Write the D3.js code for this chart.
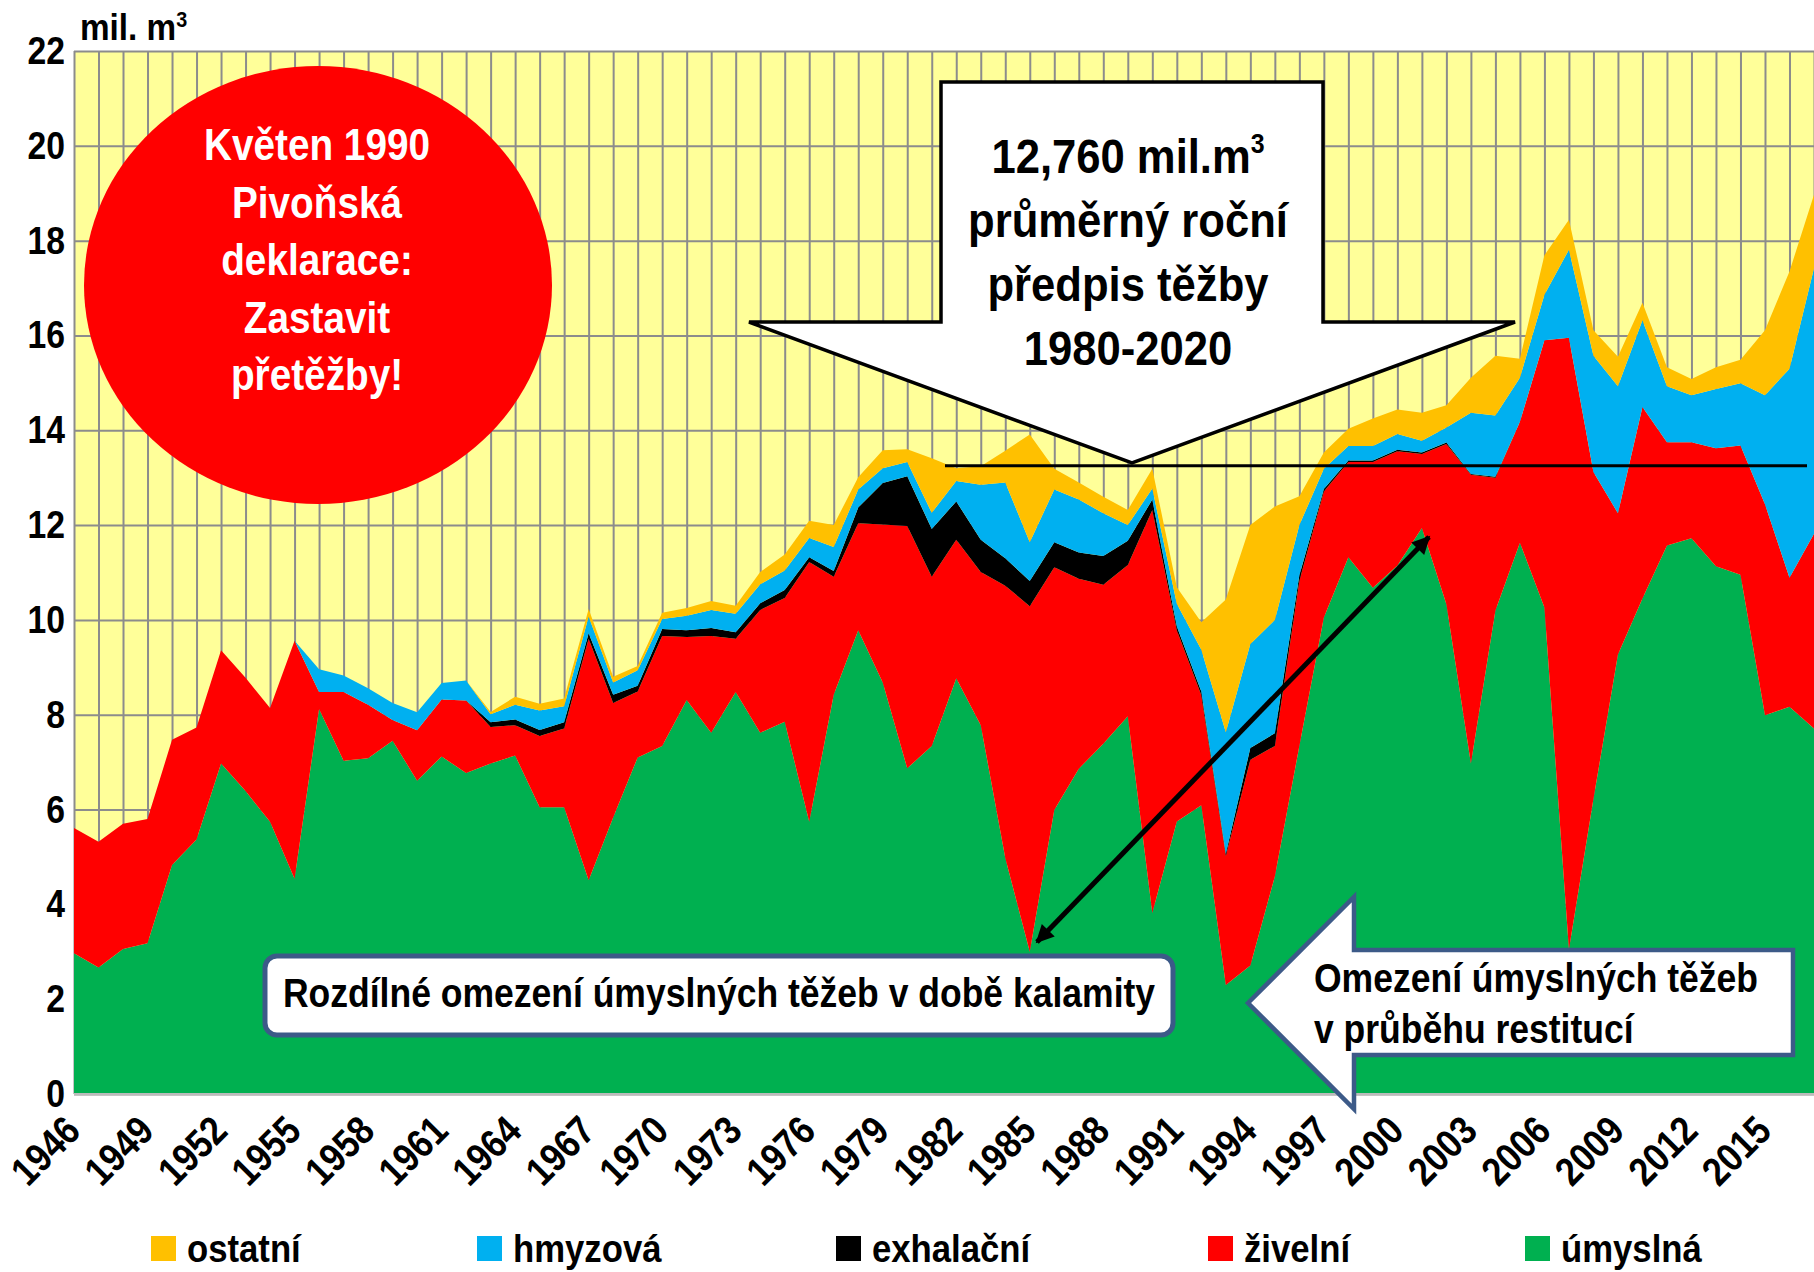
<!DOCTYPE html>
<html>
<head>
<meta charset="utf-8">
<script src="https://cdnjs.cloudflare.com/ajax/libs/d3/7.8.5/d3.min.js"></script>
<style>
  body { margin: 0; background: #fff; }
  svg { display: block; }
  text { font-family: "Liberation Sans Narrow", "Liberation Sans", Arial, sans-serif; font-weight: bold; }
</style>
</head>
<body>
<svg id="chart"></svg>
<script>
// years on the category axis
const years = [1946,1947,1948,1949,1950,1951,1952,1953,1954,1955,
  1956,1957,1958,1959,1960,1961,1962,1963,1964,1965,
  1966,1967,1968,1969,1970,1971,1972,1973,1974,1975,
  1976,1977,1978,1979,1980,1981,1982,1983,1984,1985,
  1986,1987,1988,1989,1990,1991,1992,1993,1994,1995,
  1996,1997,1998,1999,2000,2001,2002,2003,2004,2005,
  2006,2007,2008,2009,2010,2011,2012,2013,2014,2015,
  2016,2017];

// mil. m3 per year
const umyslna = [2.97,2.67,3.06,3.18,4.83,5.37,6.97,6.39,5.74,4.54,
  8.12,7.03,7.08,7.45,6.61,7.12,6.77,6.97,7.14,6.05,
  6.05,4.51,5.83,7.10,7.34,8.31,7.62,8.48,7.62,7.85,
  5.74,8.42,9.78,8.68,6.87,7.34,8.77,7.78,4.98,3.00,
  5.99,6.86,7.39,7.97,3.82,5.75,6.09,2.30,2.71,4.59,
  7.34,10.05,11.32,10.68,11.15,11.94,10.33,6.97,10.20,11.63,
  10.26,3.05,6.22,9.27,10.45,11.57,11.72,11.13,10.95,7.99,
  8.17,7.71];
const zivelni = [2.64,2.65,2.64,2.62,2.64,2.36,2.39,2.39,2.40,5.02,
  0.36,1.45,1.13,0.44,1.06,1.20,1.53,0.77,0.64,1.50,
  1.66,5.09,2.42,1.39,2.32,1.33,2.04,1.12,2.59,2.61,
  5.48,2.49,2.26,3.33,5.11,3.57,2.92,3.23,5.74,7.29,
  5.12,4.01,3.35,3.19,8.50,4.03,2.32,2.72,4.34,2.75,
  3.48,2.66,2.01,2.65,2.41,1.56,3.38,6.09,2.80,2.55,
  5.64,12.90,6.90,2.98,4.04,2.18,2.03,2.49,2.73,4.45,
  2.72,4.11];
const exhalacni = [0,0,0,0,0,0,0,0,0,0,
  0,0,0,0,0,0,0,0.10,0.12,0.13,
  0.13,0.12,0.17,0.12,0.15,0.14,0.17,0.14,0.14,0.17,
  0.10,0.12,0.33,0.88,1.05,1.01,0.81,0.68,0.58,0.53,
  0.53,0.55,0.61,0.51,0.22,0.08,0.08,0.05,0.25,0.27,
  0.12,0.05,0.03,0.03,0.03,0.03,0.03,0.02,0.02,0,
  0,0,0,0,0,0,0,0,0,0,
  0,0];
const hmyzova = [0,0,0,0,0,0,0,0,0,0,
  0.48,0.35,0.35,0.36,0.38,0.35,0.42,0.17,0.31,0.41,
  0.34,0.35,0.26,0.33,0.21,0.31,0.38,0.39,0.40,0.41,
  0.41,0.51,0.38,0.31,0.30,0.34,0.43,1.16,1.60,0.82,
  1.11,1.12,0.90,0.33,0.23,0.48,0.88,2.56,2.19,2.39,
  1.06,0.43,0.31,0.31,0.33,0.25,0.32,1.29,1.29,0.93,
  0.96,1.86,2.45,2.68,1.83,1.18,0.99,1.25,1.31,2.30,
  4.41,5.60];
const ostatni = [0,0,0,0,0,0,0,0,0,0,
  0,0,0,0,0,0,0,0.05,0.17,0.14,
  0.16,0.16,0.12,0.09,0.13,0.16,0.19,0.17,0.26,0.34,
  0.36,0.46,0.26,0.38,0.27,1.15,0.27,0.39,0.67,2.27,
  0.44,0.36,0.35,0.32,0.42,0.35,0.58,2.80,2.51,2.39,
  0.61,0.34,0.36,0.58,0.52,0.59,0.47,0.74,1.26,0.40,
  0.83,0.63,0.54,0.62,0.37,0.40,0.34,0.46,0.50,1.37,
  2.05,1.55];

const seriesKeys = ['umyslna', 'zivelni', 'exhalacni', 'hmyzova', 'ostatni'];
const seriesNames = ['úmyslná', 'živelní', 'exhalační', 'hmyzová', 'ostatní'];
const seriesColors = ['#00B050', '#FF0000', '#000000', '#00B0F0', '#FFC000'];
const legendOrder = ['ostatni', 'hmyzova', 'exhalacni', 'zivelni', 'umyslna'];

const yTicks = [0, 2, 4, 6, 8, 10, 12, 14, 16, 18, 20, 22];
const labelYears = [1946,1949,1952,1955,1958,1961,1964,1967,1970,1973,1976,1979,
  1982,1985,1988,1991,1994,1997,2000,2003,2006,2009,2012,2015];
const plannedCut = 13.25; // line drawn for the 12,760 average

const width = 1814, height = 1272;
const margin = {top: 51, right: 0, bottom: 178, left: 74};
const innerW = width - margin.left - margin.right;
const innerH = height - margin.top - margin.bottom;
const gridColor = '#8C8C8C';

// no narrow face installed: squeeze the bold sans horizontally instead
function squeeze(sel, sx){
  sel.each(function(){
    const t = d3.select(this);
    const x0 = +t.attr('x') || 0, y0 = +t.attr('y') || 0;
    const pre = t.attr('transform') || '';
    t.attr('x', 0).attr('y', 0)
      .attr('transform', `${pre} translate(${x0},${y0}) scale(${sx},1)`);
  });
}

const svg = d3.select('#chart').attr('width', width).attr('height', height);
svg.append('rect').attr('width', width).attr('height', height).attr('fill', '#fff');

const chart = svg.append('g').attr('transform', `translate(${margin.left},${margin.top})`);

const x = d3.scaleLinear().domain([years[0], years[years.length - 1]]).range([0, innerW]);
const y = d3.scaleLinear().domain([0, 22]).range([innerH, 0]);

// plot background
chart.append('rect').attr('width', innerW).attr('height', innerH).attr('fill', '#FFFF99');

// grid
chart.append('g')
  .attr('transform', `translate(0,${innerH})`)
  .call(d3.axisBottom(x).tickValues(years).tickSize(-innerH).tickFormat(''))
  .call(g => g.select('.domain').remove())
  .call(g => g.selectAll('line').attr('stroke', gridColor).attr('stroke-width', 2));

chart.append('g')
  .call(d3.axisLeft(y).tickValues(yTicks).tickSize(-innerW).tickFormat(''))
  .call(g => g.select('.domain').remove())
  .call(g => g.selectAll('line').attr('stroke', gridColor).attr('stroke-width', 2));

// stacked areas
const table = years.map((yr, i) => ({
  year: yr, umyslna: umyslna[i], zivelni: zivelni[i], exhalacni: exhalacni[i],
  hmyzova: hmyzova[i], ostatni: ostatni[i]
}));
const stacked = d3.stack().keys(seriesKeys)(table);
const area = d3.area()
  .x(d => x(d.data.year))
  .y0(d => y(d[0]))
  .y1(d => y(d[1]));

chart.selectAll('path.layer').data(stacked).enter()
  .append('path')
  .attr('class', 'layer')
  .attr('d', area)
  .attr('fill', (d, i) => seriesColors[i]);

// axes labels
chart.append('g')
  .call(d3.axisLeft(y).tickValues(yTicks).tickSize(0).tickPadding(9))
  .call(g => g.select('.domain').remove())
  .call(g => g.selectAll('text').attr('font-size', 39).attr('fill', '#000'))
  .call(g => squeeze(g.selectAll('text'), 0.865));

chart.append('line')
  .attr('x1', 0).attr('x2', innerW).attr('y1', innerH).attr('y2', innerH)
  .attr('stroke', '#bbb').attr('stroke-width', 2);

chart.append('g')
  .attr('transform', `translate(0,${innerH})`)
  .call(d3.axisBottom(x).tickValues(labelYears).tickSize(0).tickFormat(d3.format('d')))
  .call(g => g.select('.domain').remove())
  .call(g => g.selectAll('text')
    .attr('font-size', 40)
    .attr('fill', '#000')
    .attr('text-anchor', 'end')
    .attr('y', 0).attr('dy', 0)
    .attr('transform', 'translate(8,39) rotate(-45)'))
  .call(g => squeeze(g.selectAll('text'), 0.87));

const unit = svg.append('text')
  .attr('x', 80).attr('y', 40)
  .attr('font-size', 37)
  .text('mil. m');
unit.append('tspan').attr('font-size', 22).attr('dy', -13).text('3');
squeeze(unit, 0.9);

// red circle
const circle = svg.append('g');
circle.append('ellipse')
  .attr('cx', 318).attr('cy', 285).attr('rx', 234).attr('ry', 219)
  .attr('fill', '#FF0000');
const circleLines = ['Květen 1990', 'Pivoňská', 'deklarace:', 'Zastavit', 'přetěžby!'];
circle.selectAll('text').data(circleLines).enter()
  .append('text')
  .attr('x', 317)
  .attr('y', (d, i) => 160 + i * 57.5)
  .attr('text-anchor', 'middle')
  .attr('font-size', 44)
  .attr('fill', '#fff')
  .text(d => d);
squeeze(circle.selectAll('text'), 0.88);

// down arrow callout
const callout = svg.append('g');
callout.append('path')
  .attr('d', 'M941,82 L1323,82 L1323,322 L1515,322 L1132,463 L749,322 L941,322 Z')
  .attr('fill', '#fff').attr('stroke', '#000').attr('stroke-width', 3.5);
const calloutLines = ['12,760 mil.m', 'průměrný roční', 'předpis těžby', '1980-2020'];
callout.selectAll('text').data(calloutLines).enter()
  .append('text')
  .attr('x', 1128)
  .attr('y', (d, i) => 173 + i * 64)
  .attr('text-anchor', 'middle')
  .attr('font-size', 49)
  .attr('fill', '#000')
  .text(d => d)
  .filter((d, i) => i === 0)
  .append('tspan').attr('font-size', 28).attr('dy', -20).text('3');
squeeze(callout.selectAll('text'), 0.89);

chart.append('line')
  .attr('x1', 945 - margin.left).attr('x2', 1807 - margin.left)
  .attr('y1', y(plannedCut)).attr('y2', y(plannedCut))
  .attr('stroke', '#000').attr('stroke-width', 3);

// rounded box
const box1 = svg.append('g');
box1.append('rect')
  .attr('x', 265).attr('y', 956).attr('width', 908).attr('height', 79).attr('rx', 12)
  .attr('fill', '#fff').attr('stroke', '#3C5A88').attr('stroke-width', 5);
box1.append('text')
  .attr('x', 719).attr('y', 1007).attr('text-anchor', 'middle')
  .attr('font-size', 40).attr('fill', '#000')
  .text('Rozdílné omezení úmyslných těžeb v době kalamity');
squeeze(box1.selectAll('text'), 0.888);

// left arrow callout
const box2 = svg.append('g');
box2.append('path')
  .attr('d', 'M1248,1003 L1354,897 L1354,950 L1793,950 L1793,1055 L1354,1055 L1354,1109 Z')
  .attr('fill', '#fff').attr('stroke', '#3C5A88').attr('stroke-width', 4.5)
  .attr('stroke-linejoin', 'miter');
box2.selectAll('text').data(['Omezení úmyslných těžeb', 'v průběhu restitucí']).enter()
  .append('text')
  .attr('x', 1314).attr('y', (d, i) => 992 + i * 51)
  .attr('font-size', 40).attr('fill', '#000')
  .text(d => d);
squeeze(box2.selectAll('text'), 0.888);

// double arrow
const defs = svg.append('defs');
['start', 'end'].forEach(k => {
  defs.append('marker')
    .attr('id', 'arr-' + k)
    .attr('viewBox', '0 0 10 10')
    .attr('refX', k === 'end' ? 9 : 1).attr('refY', 5)
    .attr('markerWidth', 24).attr('markerHeight', 18)
    .attr('markerUnits', 'userSpaceOnUse')
    .attr('orient', 'auto')
    .append('path')
    .attr('d', k === 'end' ? 'M0,0 L10,5 L0,10 Z' : 'M10,0 L0,5 L10,10 Z')
    .attr('fill', '#000');
});
svg.append('line')
  .attr('x1', 1037).attr('y1', 942).attr('x2', 1429).attr('y2', 537)
  .attr('stroke', '#000').attr('stroke-width', 5)
  .attr('marker-start', 'url(#arr-start)')
  .attr('marker-end', 'url(#arr-end)');

// legend
const legendX = [151, 477, 836, 1208, 1525];
const legend = svg.append('g');
legendOrder.forEach((key, i) => {
  const idx = seriesKeys.indexOf(key);
  const g = legend.append('g').attr('transform', `translate(${legendX[i]},1236)`);
  g.append('rect').attr('width', 25).attr('height', 25).attr('fill', seriesColors[idx]);
  g.append('text').attr('x', 36).attr('y', 26).attr('font-size', 39).attr('fill', '#000')
    .text(seriesNames[idx]);
});
squeeze(legend.selectAll('text'), 0.89);
</script>
</body>
</html>
